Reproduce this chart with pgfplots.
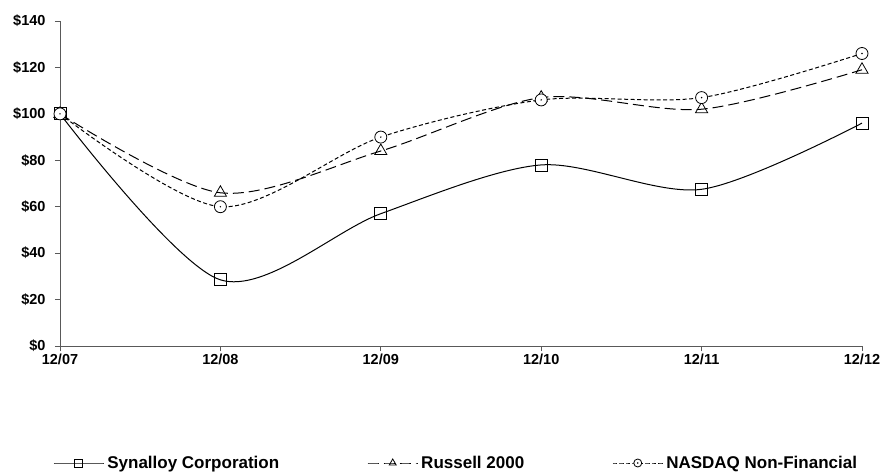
\documentclass[border=0pt]{standalone}
\usepackage{fontspec}
\setmainfont{Liberation Sans}
\usepackage{pgfplots}
\pgfplotsset{compat=1.18}
\pgfdeclareplotmark{odot}{%
  \pgfpathcircle{\pgfpointorigin}{\pgfplotmarksize}\pgfusepathqfillstroke
  \begin{pgfscope}\pgfsetfillcolor{black}%
  \pgfpathcircle{\pgfpointorigin}{0.8pt}\pgfusepathqfill\end{pgfscope}}
\begin{document}
\begin{tikzpicture}
\begin{axis}[
  name=ax,
  scale only axis,
  width=802pt, height=325pt,
  xmin=0, xmax=5, ymin=0, ymax=140,
  axis x line*=bottom, axis y line*=left,
  axis line style={black!65, line width=0.9pt},
  xtick={0,1,2,3,4,5},
  xticklabels={12/07,12/08,12/09,12/10,12/11,12/12},
  ytick={0,20,40,60,80,100,120,140},
  yticklabels={\$0,\$20,\$40,\$60,\$80,\$100,\$120,\$140},
  tick align=outside, major tick length=5pt,
  tick style={black!65, line width=0.9pt},
  ticklabel style={font=\fontsize{14.5}{16}\selectfont\bfseries},
  xticklabel style={yshift=1pt},
  yticklabel style={xshift=-6pt},
  clip=false,
  legend columns=3,
  legend cell align=left,
  legend style={draw=none, at={(axis description cs:0.494,-0.36)}, anchor=center,
    font=\fontsize{17}{19}\selectfont\bfseries,
    /tikz/every even column/.style={column sep=86pt},
    /tikz/every odd column/.style={column sep=1pt}},
  every legend image post/.style={mark size=4pt},
  legend image code/.code={\draw[mark repeat=2,mark phase=2,#1] plot coordinates {(0pt,0pt) (25pt,0pt) (50pt,0pt)};},
]
\addplot[black, line width=1pt, smooth, tension=0.5, mark=square, mark size=6pt, mark options={solid, fill=white, line width=0.8pt}]
 coordinates {(0,100) (1,28.5) (2,57) (3,78) (4,67.5) (5,96)};
\addlegendentry{Synalloy Corporation}
\addplot[black, line width=1pt, smooth, tension=0.5, dash pattern=on 11pt off 5pt, mark=triangle, mark size=7pt, mark options={solid, fill=white, line width=0.8pt}]
 coordinates {(0,100) (1,66) (2,84) (3,107) (4,102) (5,119)};
\addlegendentry{Russell 2000}
\addplot[black, line width=1pt, smooth, tension=0.5, dash pattern=on 4pt off 2.5pt, mark=odot, mark size=6pt, mark options={solid, fill=white, line width=0.8pt}]
 coordinates {(0,100) (1,60) (2,90) (3,106) (4,107) (5,126)};
\addlegendentry{NASDAQ Non-Financial}
\end{axis}
\pgfresetboundingbox
\useasboundingbox (ax.south west) ++(-60pt,-125pt) rectangle ++(883pt,471pt);
\end{tikzpicture}
\end{document}
